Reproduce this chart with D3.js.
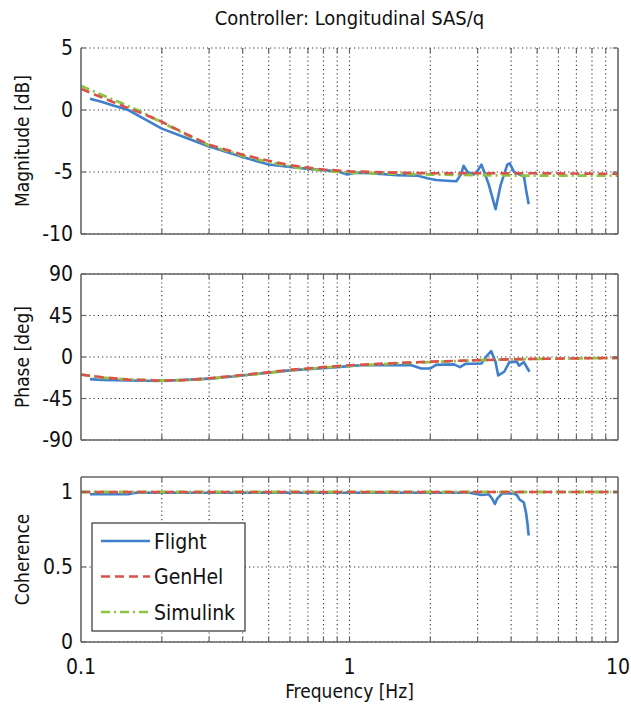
<!DOCTYPE html>
<html>
<head>
<meta charset="utf-8">
<script src="https://cdn.jsdelivr.net/npm/d3@7"></script>
<style>
body { margin: 0; background: #fff; }
text { font-family: "DejaVu Sans Condensed", "Liberation Sans Narrow", "Liberation Sans", sans-serif; fill: #111; }
</style>
</head>
<body>
<div id="chart"></div>
<script>
/* Bode plot: Controller Longitudinal SAS/q */

// ---- data ----
var seriesNames = ["Flight", "GenHel", "Simulink"];

// magnitude [dB]
var magModelFreq = [0.1, 0.12, 0.14, 0.17, 0.2, 0.25, 0.3, 0.4, 0.5, 0.6, 0.7, 0.8, 1.0, 1.5, 2, 3, 5, 10];
var magGenHel    = [1.7, 1.0, 0.4, -0.3, -0.95, -2.0, -2.8, -3.6, -4.1, -4.45, -4.65, -4.8, -4.95, -5.05, -5.1, -5.1, -5.1, -5.15];
var magSimulink  = [1.95, 1.2, 0.6, -0.2, -1.0, -2.05, -2.85, -3.7, -4.2, -4.55, -4.75, -4.9, -5.05, -5.15, -5.2, -5.25, -5.3, -5.3];
var magFlightFreq = [0.108, 0.12, 0.13, 0.15, 0.17, 0.2, 0.25, 0.3, 0.4, 0.5, 0.6, 0.7, 0.8, 0.9, 0.98, 1.05, 1.2, 1.5, 1.8, 1.95, 2.1, 2.3, 2.5, 2.6, 2.66, 2.75, 2.9, 3.0, 3.1, 3.2, 3.3, 3.5, 3.65, 3.87, 3.95, 4.1, 4.3, 4.47, 4.55, 4.65];
var magFlight     = [0.9, 0.65, 0.4, 0.0, -0.65, -1.5, -2.3, -2.95, -3.8, -4.4, -4.6, -4.75, -4.85, -4.95, -5.2, -5.05, -5.1, -5.25, -5.3, -5.5, -5.65, -5.7, -5.75, -5.2, -4.5, -5.0, -5.2, -4.9, -4.4, -5.2, -6.0, -8.0, -6.1, -4.4, -4.3, -5.0, -5.2, -5.4, -6.5, -7.6];

// phase [deg]
var phaseModelFreq = [0.1, 0.12, 0.15, 0.2, 0.25, 0.3, 0.4, 0.5, 0.6, 0.8, 1, 1.5, 2, 3, 4, 5, 7, 10];
var phaseGenHel    = [-19, -22, -24.5, -25.5, -25, -23, -19.5, -16.5, -14, -11, -9, -6.5, -5, -3.5, -2.5, -2, -1.5, -1];
var phaseSimulink  = [-19, -22.5, -24.5, -25.5, -25, -23.5, -20, -17, -14.5, -11.5, -9.5, -7, -5.5, -3.5, -2.5, -2, -1.5, -1];
var phaseFlightFreq = [0.108, 0.12, 0.15, 0.2, 0.3, 0.4, 0.6, 0.9, 1.1, 1.4, 1.7, 1.85, 2.0, 2.1, 2.45, 2.58, 2.7, 3.1, 3.26, 3.37, 3.5, 3.58, 3.77, 3.94, 4.2, 4.28, 4.46, 4.68];
var phaseFlight     = [-24, -25, -25.5, -26, -23.5, -20, -14.5, -11, -9, -9, -9, -12.5, -12.5, -8.5, -8, -11, -7.5, -7, 1.8, 6.5, -5.5, -20, -16, -5.5, -5, -9.5, -5.5, -16];

// coherence
var cohModelFreq = [0.1, 10];
var cohGenHel    = [1, 1];
var cohSimulink  = [1, 1];
var cohFlightFreq = [0.108, 0.15, 0.16, 0.5, 1, 2, 2.8, 3.1, 3.3, 3.4, 3.48, 3.55, 3.7, 4.1, 4.2, 4.3, 4.46, 4.55, 4.6, 4.65];
var cohFlight     = [0.985, 0.985, 0.995, 0.995, 0.995, 0.995, 0.995, 0.98, 0.985, 0.956, 0.92, 0.956, 0.99, 0.99, 0.98, 0.95, 0.93, 0.856, 0.79, 0.71];

var xTickValues = [0.1, 1, 10];

// ---- layout ----
var width = 631, height = 704,
    left = 81, right = 618;

var svg = d3.select("#chart").append("svg")
    .attr("width", width)
    .attr("height", height);

var x = d3.scaleLog().domain([0.1, 10]).range([left, right]);

// minor + major frequencies for grid
var gridFreqs = [];
[0.1, 1].forEach(function(dec) {
    for (var k = 1; k <= 9; k++) gridFreqs.push(k * dec);
});
gridFreqs.push(10);

var colors = {Flight: "#3f7fcb", GenHel: "#d9534a", Simulink: "#8dc540"};

function zip(f, v) { return f.map(function(d, i) { return [d, v[i]]; }); }

function panel(opt) {
    var y = d3.scaleLinear().domain(opt.domain).range([opt.bottom, opt.top]);
    var g = svg.append("g");

    // dotted grid
    g.selectAll(".vg").data(gridFreqs.slice(1, -1)).enter().append("line")
        .attr("x1", d => x(d)).attr("x2", d => x(d))
        .attr("y1", opt.top).attr("y2", opt.bottom)
        .attr("stroke", "#333").attr("stroke-width", 1.1)
        .attr("stroke-dasharray", "1.2,3");
    g.selectAll(".hg").data(opt.ticks).enter().append("line")
        .attr("x1", left).attr("x2", right)
        .attr("y1", d => y(d)).attr("y2", d => y(d))
        .attr("stroke", "#333").attr("stroke-width", 1.1)
        .attr("stroke-dasharray", "1.2,3");

    // series: flight, simulink, genhel on top
    var line = d3.line().x(d => x(d[0])).y(d => y(d[1]));
    g.append("path").datum(zip(opt.flightFreq, opt.flight))
        .attr("d", line).attr("fill", "none")
        .attr("stroke", colors.Flight).attr("stroke-width", 2.6)
        .attr("stroke-linejoin", "round");
    g.append("path").datum(zip(opt.modelFreq, opt.simulink))
        .attr("d", line).attr("fill", "none")
        .attr("stroke", colors.Simulink).attr("stroke-width", 2.8)
        .attr("stroke-dasharray", "9,4,2,4");
    g.append("path").datum(zip(opt.modelFreq, opt.genhel))
        .attr("d", line).attr("fill", "none")
        .attr("stroke", colors.GenHel).attr("stroke-width", 2.6)
        .attr("stroke-dasharray", "9,5");

    // frame
    var frame = [[left, opt.top, left, opt.bottom], [left, opt.bottom, right, opt.bottom], [right, opt.top, right, opt.bottom]];
    if (opt.topFrame) frame.push([left, opt.top, right, opt.top]);
    g.selectAll(".fr").data(frame).enter().append("line")
        .attr("x1", d => d[0]).attr("y1", d => d[1]).attr("x2", d => d[2]).attr("y2", d => d[3])
        .attr("stroke", "#666").attr("stroke-width", 1.6);

    // inward ticks
    gridFreqs.slice(1, -1).forEach(function(f) {
        g.append("line").attr("x1", x(f)).attr("x2", x(f))
            .attr("y1", opt.bottom).attr("y2", opt.bottom - 5).attr("stroke", "#666").attr("stroke-width", 1.2);
        g.append("line").attr("x1", x(f)).attr("x2", x(f))
            .attr("y1", opt.top).attr("y2", opt.top + 5).attr("stroke", "#666").attr("stroke-width", 1.2);
    });
    opt.ticks.forEach(function(t) {
        g.append("line").attr("x1", left).attr("x2", left + 5)
            .attr("y1", y(t)).attr("y2", y(t)).attr("stroke", "#666").attr("stroke-width", 1.2);
        g.append("line").attr("x1", right).attr("x2", right - 5)
            .attr("y1", y(t)).attr("y2", y(t)).attr("stroke", "#666").attr("stroke-width", 1.2);
    });

    // y tick labels
    g.selectAll(".yl").data(opt.ticks).enter().append("text")
        .attr("x", left - 8).attr("y", d => y(d))
        .attr("dy", "0.34em").attr("text-anchor", "end")
        .style("font-size", "21px")
        .text(d => d);

    // y axis label
    g.append("text")
        .attr("transform", "translate(29," + ((opt.top + opt.bottom) / 2) + ") rotate(-90)")
        .attr("text-anchor", "middle")
        .style("font-size", "19px")
        .text(opt.label);

    return y;
}

panel({top: 48, bottom: 234, domain: [-10, 5], ticks: [-10, -5, 0, 5], label: "Magnitude [dB]",
    modelFreq: magModelFreq, genhel: magGenHel, simulink: magSimulink,
    flightFreq: magFlightFreq, flight: magFlight, topFrame: false});

panel({top: 274, bottom: 440, domain: [-90, 90], ticks: [-90, -45, 0, 45, 90], label: "Phase [deg]",
    modelFreq: phaseModelFreq, genhel: phaseGenHel, simulink: phaseSimulink,
    flightFreq: phaseFlightFreq, flight: phaseFlight, topFrame: true});

panel({top: 477, bottom: 642, domain: [0, 1.1], ticks: [0, 0.5, 1], label: "Coherence",
    modelFreq: cohModelFreq, genhel: cohGenHel, simulink: cohSimulink,
    flightFreq: cohFlightFreq, flight: cohFlight, topFrame: true});

// x tick labels + label
svg.selectAll(".xl").data(xTickValues).enter().append("text")
    .attr("x", d => x(d)).attr("y", 674)
    .attr("text-anchor", "middle")
    .style("font-size", "21px")
    .text(d => d);

svg.append("text")
    .attr("x", (left + right) / 2).attr("y", 698)
    .attr("text-anchor", "middle")
    .style("font-size", "19px")
    .text("Frequency [Hz]");

// title
svg.append("text")
    .attr("x", (left + right) / 2).attr("y", 25)
    .attr("text-anchor", "middle")
    .style("font-size", "20px")
    .text("Controller: Longitudinal SAS/q");

// legend
var legend = svg.append("g").attr("transform", "translate(92,523)");
legend.append("rect").attr("width", 153).attr("height", 108)
    .attr("fill", "#fff").attr("stroke", "#333").attr("stroke-width", 1.2);
var dash = {Flight: null, GenHel: "9,5", Simulink: "9,4,2,4"};
seriesNames.forEach(function(name, i) {
    var ly = 18 + i * 35.5;
    legend.append("line").attr("x1", 9).attr("x2", 58).attr("y1", ly).attr("y2", ly)
        .attr("stroke", colors[name]).attr("stroke-width", 2.4)
        .attr("stroke-dasharray", dash[name]);
    legend.append("text").attr("x", 62).attr("y", ly).attr("dy", "0.36em")
        .style("font-size", "21px")
        .text(name);
});
</script>
</body>
</html>
